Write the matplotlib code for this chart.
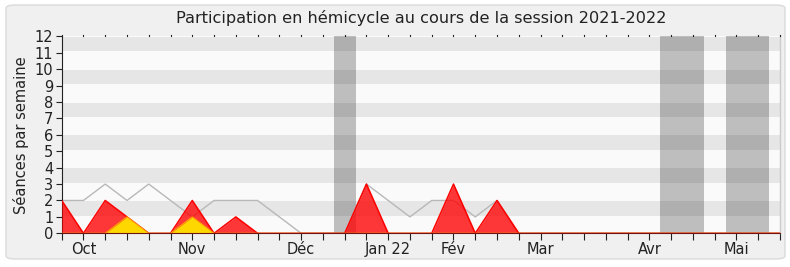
import matplotlib
matplotlib.use("Agg")
import matplotlib.pyplot as plt
from matplotlib.patches import FancyBboxPatch

# Weekly attendance, one value per week of the session
weeks = list(range(34))
total_seances = [2, 2, 3, 2, 3, 2, 1, 2, 2, 2, 1, 0, 0, 0, 3, 2, 1, 2, 2, 1, 2,
                 0, 0, 0, 0, 0, 0, 0, 0, 0, 0, 0, 0, 0]
presences = [2, 0, 2, 1, 0, 0, 2, 0, 1, 0, 0, 0, 0, 0, 3, 0, 0, 0, 3, 0, 2,
             0, 0, 0, 0, 0, 0, 0, 0, 0, 0, 0, 0, 0]
interventions = [0, 0, 0, 1, 0, 0, 1, 0, 0, 0, 0, 0, 0, 0, 0, 0, 0, 0, 0, 0, 0,
                 0, 0, 0, 0, 0, 0, 0, 0, 0, 0, 0, 0, 0]

# Parliamentary breaks (week ranges)
vacances = [(12.5, 13.5), (27.5, 29.5), (30.5, 32.5)]

month_weeks = [1, 6, 11, 15, 18, 22, 27, 31]
month_labels = ["Oct", "Nov", "Déc", "Jan 22", "Fév", "Mar", "Avr", "Mai"]

plt.rcParams["font.family"] = ["DejaVu Sans"]

fig = plt.figure(figsize=(7.9, 2.67), dpi=100)
fig.patch.set_facecolor("white")
frame = FancyBboxPatch((6 / 790, 8 / 267), 779 / 790, 254 / 267,
                       boxstyle="round,pad=0,rounding_size=0.012",
                       transform=fig.transFigure, facecolor="#F0F0F0",
                       edgecolor="#DADADA", linewidth=1, zorder=-10)
fig.patches.append(frame)

ax = fig.add_axes([61.7 / 790, 1 - 233.3 / 267, (780 - 61.7) / 790, (233.3 - 36.3) / 267])
ax.set_zorder(1)
ax.set_facecolor("#FAFAFA")

# breaks
for a, b in vacances:
    ax.axvspan(a, b, color="#BEBEBE", lw=0, zorder=0.5)

# horizontal stripes, translucent so they also darken the breaks
for i in range(1, 12, 2):
    ax.axhspan(i + 0.08, i + 0.96, color="black", alpha=0.08, lw=0, zorder=1)

ax.plot(weeks, total_seances, color="#B8B8B8", lw=1, zorder=2)
ax.fill_between(weeks, presences, 0, color="#FF0000", alpha=0.78, lw=0, zorder=3)
ax.plot(weeks, presences, color="#FF0000", lw=1.1, zorder=4)
ax.fill_between(weeks, interventions, 0, color="#FFD700", lw=0, zorder=5)
ax.plot(weeks, interventions, color="#FFA500", lw=0.8, zorder=6)

ax.set_xlim(0, 33)
ax.set_ylim(0, 12)
ax.set_yticks(range(0, 13))
ax.set_xticks(weeks, minor=True)
ax.set_xticks(month_weeks)
ax.set_xticklabels(month_labels)

for side in ("top", "right"):
    ax.spines[side].set_visible(False)
ax.spines["left"].set_color("#222222")
ax.spines["bottom"].set_color("#6E1414")
ax.spines["bottom"].set_zorder(7)
ax.plot([1, 1], [0, 1], transform=ax.transAxes, color="#CCCCCC", lw=1, clip_on=False)

ax.tick_params(axis="y", length=4, width=0.8, labelsize=10.5, colors="#222222", pad=2)
ax.tick_params(axis="x", which="both", length=5, width=0.8, direction="out",
               top=False, labelsize=10.5, colors="#222222", pad=1)
# short marks along the top edge
for w in weeks:
    ax.plot([w, w], [1.0, 1.008], transform=ax.get_xaxis_transform(),
            color="#222222", lw=0.8, clip_on=False)

ax.set_ylabel("Séances par semaine", fontsize=10.5, color="#222222", labelpad=4)
fig.text((61.7 + 780) / 2 / 790, 1 - 18 / 267,
         "Participation en hémicycle au cours de la session 2021-2022",
         ha="center", va="center", fontsize=11.6, color="#222222")

fig.savefig("out.png", dpi=100, facecolor=fig.get_facecolor())
